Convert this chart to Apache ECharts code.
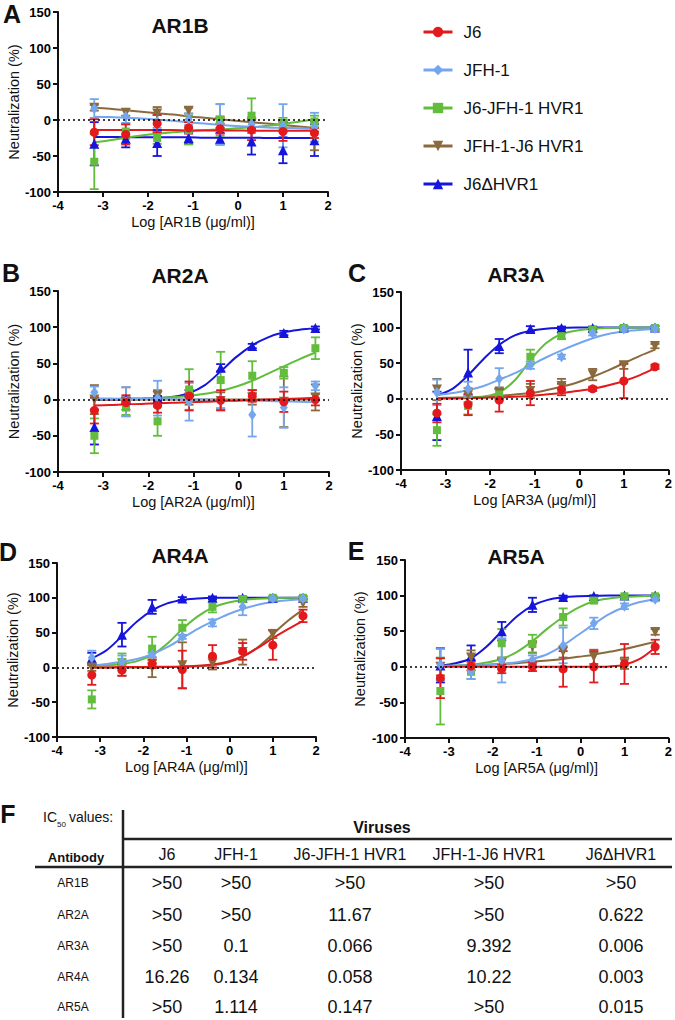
<!DOCTYPE html>
<html><head><meta charset="utf-8">
<script src="https://cdn.jsdelivr.net/npm/echarts@6/dist/echarts.min.js"></script>
<style>html,body{margin:0;padding:0;background:#fff}#c{width:675px;height:1020px}</style>
</head><body><div id="c"></div>
<script>
// ---------- data ----------
const doseLog = [-3.194, -2.495, -1.796, -1.097, -0.398, 0.301, 1.0, 1.699];
const curveLog = [-3.194, -2.845, -2.495, -2.146, -1.796, -1.447, -1.097, -0.748, -0.398, -0.049, 0.301, 0.651, 1.0, 1.35, 1.699];
const viruses = ['J6', 'JFH-1', 'J6-JFH-1 HVR1', 'JFH-1-J6 HVR1', 'J6ΔHVR1'];
const antibodies = ['AR1B', 'AR2A', 'AR3A', 'AR4A', 'AR5A'];
const panelLetters = ['A', 'B', 'C', 'D', 'E'];

// rows: J6, JFH-1, J6-JFH-1 HVR1, JFH-1-J6 HVR1, J6ΔHVR1
const ar1bMean = [
  [-17, -20, -5, -11, -12, -14, -16, -18],
  [16, 5, -2, 1, -6, -6, -8, -10],
  [-58, -16, -25, -14, 0, 6, -5, -2],
  [17, 10, 9, 13, -3, -5, -8, -22],
  [-33, -26, -32, -25, -26, -30, -42, -28]];
const ar1bErr = [
  [18, 14, 12, 8, 7, 14, 13, 7],
  [13, 9, 9, 8, 28, 10, 30, 20],
  [38, 10, 8, 20, 22, 24, 8, 8],
  [4, 4, 9, 4, 8, 8, 8, 20],
  [30, 12, 18, 8, 8, 18, 18, 22]];
const ar1bFit = [
  [-14, -14, -14, -14, -14, -14, -14.5, -14.5, -14.5, -14.5, -15, -15, -15, -15, -15],
  [4.5, 4, 3, 2, 0.5, -1, -3, -5, -7, -8.5, -9.5, -10.5, -11, -11.5, -12],
  [-31, -28, -24.5, -21.5, -19, -17, -15.5, -14, -13, -11.5, -10, -8, -5.5, -2.5, 1],
  [17, 15.5, 13.5, 11.5, 9.5, 7.5, 5, 3, 1, -1, -3, -5, -7, -9, -11],
  [-23.5, -23.5, -24, -24, -24, -24, -24, -24.5, -24.5, -24.5, -24.5, -25, -25, -25, -25]];

const ar2aMean = [
  [-15, -4, -8, 5, -1, 5, -3, 0],
  [10, -3, 2, -3, 0, -21, -11, 19],
  [-50, -11, -30, 14, 27, 33, 37, 71],
  [0, -3, 5, 3, -2, 3, -3, 3],
  [-38, 0, 2, 10, 44, 74, 92, 99]];
const ar2aErr = [
  [18, 10, 10, 20, 14, 8, 14, 8],
  [8, 20, 24, 26, 12, 30, 28, 6],
  [24, 10, 20, 28, 39, 20, 8, 15],
  [20, 20, 8, 10, 12, 10, 35, 18],
  [24, 3, 3, 3, 5, 3, 3, 2]];
const ar2aFit = [
  [-8, -7.5, -6.5, -6, -5, -4.5, -3.5, -3, -2, -1.5, -0.5, 0, 1, 1.5, 2.5],
  [1.5, 1.5, 1, 1, 0.5, 0.5, 0, 0, -0.5, -1, -1.5, -2, -2.5, -3, -3.5],
  [1, 1, 1.5, 2, 2.5, 3.5, 5, 8, 12, 18, 26, 36, 46, 56, 65],
  [0, 0, 0, 0, 0, 0, 0, 0, 0, 0, 0, 0, 0, 0, 0],
  [0, 0, 0.5, 1, 2, 4, 9, 20, 39, 59, 75, 86, 93, 96.5, 98.5]];

const ar3aMean = [
  [-20, -8, -2, 8, 13, 14, 25, 45],
  [9, 14, 28, 47, 59, 92, 98, 99],
  [-44, -10, 6, 59, 88, 97, 99.5, 99.5],
  [13, 5, 8, 11, 18, 34, 47, 74],
  [-24, 37, 74, 98, 99.5, 99.5, 100, 100]];
const ar3aErr = [
  [13, 15, 16, 17, 8, 3, 24, 3],
  [18, 10, 15, 5, 3, 3, 3, 3],
  [22, 12, 8, 10, 4, 3, 2, 3],
  [15, 10, 8, 10, 10, 8, 5, 3],
  [34, 32, 10, 4, 2, 2, 2, 2]];
const ar3aFit = [
  [0.5, 0.7, 1, 1.5, 2, 3, 4, 6, 8, 11, 14, 19, 25, 33, 43],
  [5, 8, 12, 18, 27, 36, 47, 58, 68, 77, 85, 91, 94.5, 96.5, 98],
  [0, 0.5, 1, 3, 9, 26, 54, 78, 91, 96, 98.5, 99.5, 100, 100, 100],
  [1, 1.5, 2, 3, 4, 6, 8, 12, 17, 23, 31, 40, 50, 60, 69],
  [5, 14, 33, 56, 76, 89, 95.5, 98.5, 99.5, 100, 100, 100, 100, 100, 100]];

const ar4aMean = [
  [-11, -4, 5, -3, 16, 23, 32, 74],
  [14, 8, 18, 44, 64, 87, 99, 99],
  [-46, 8, 27, 57, 87, 98, 100, 100],
  [0, 0, 0, 3, 6, 22, 48, 92],
  [13, 47, 87, 99, 100, 100, 100, 100]];
const ar4aErr = [
  [14, 8, 6, 27, 16, 12, 21, 9],
  [10, 9, 3, 3, 5, 12, 2, 2],
  [13, 12, 17, 11, 8, 3, 2, 2],
  [5, 12, 14, 33, 9, 18, 6, 5],
  [8, 17, 10, 2, 2, 2, 2, 2]];
const ar4aFit = [
  [0, 0, 0.5, 0.5, 1, 1, 1.5, 2.5, 4, 8, 16, 28, 42, 55, 67],
  [3, 5, 8, 12, 19, 29, 42, 55, 66, 76, 84, 90, 94, 96.5, 98],
  [2, 3, 5, 9, 18, 34, 55, 73, 86, 93, 97, 98.5, 99.5, 100, 100],
  [0, 0, 0, 0, 0, 0.5, 1, 1.5, 3, 7, 15, 29, 48, 67, 83],
  [13, 25, 45, 66, 82, 92, 97, 99, 100, 100, 100, 100, 100, 100, 100]];

const ar5aMean = [
  [-16, 1, -3, 0, -3, 0, 4, 28],
  [3, -7, 9, 10, 30, 61, 85, 95],
  [-34, -7, 33, 32, 70, 93, 99, 99],
  [0, 13, 5, 28, 21, 14, 5, 49],
  [2, 15, 50, 87, 98, 99.5, 100, 100]];
const ar5aErr = [
  [28, 6, 6, 6, 25, 22, 28, 10],
  [22, 10, 31, 6, 25, 8, 4, 3],
  [47, 10, 20, 13, 12, 3, 2, 2],
  [12, 10, 8, 8, 8, 10, 8, 4],
  [24, 15, 13, 10, 2, 1, 1, 1]];
const ar5aFit = [
  [0, 0, 0, 0, 0, 0, 0, 0, 0, 0, 0, 0.5, 3, 11, 27],
  [1, 1.5, 2, 2.5, 4, 6.5, 11, 18, 30, 45, 60, 74, 84, 91, 95],
  [1, 1.5, 3, 6, 11, 21, 36, 54, 70, 83, 92, 96, 98, 99, 100],
  [1, 1.5, 2, 3, 4, 5, 7, 9, 11, 14, 17, 21, 25, 30, 35],
  [2, 5, 12, 28, 50, 71, 86, 94, 97.5, 99, 99.5, 100, 100, 100, 100]];

// IC50 table (µg/ml), one array per virus column, rows follow antibodies
const ic50J6 = ['>50', '>50', '>50', '16.26', '>50'];
const ic50JFH1 = ['>50', '>50', '0.1', '0.134', '1.114'];
const ic50J6JFH1 = ['>50', '11.67', '0.066', '0.058', '0.147'];
const ic50JFH1J6 = ['>50', '>50', '9.392', '10.22', '>50'];
const ic50J6dHVR1 = ['>50', '0.622', '0.006', '0.003', '0.015'];

// ---------- build ----------
const FONT = '"Liberation Sans", Arial, Helvetica, sans-serif';
const colors = ['#e3191c', '#74a6ee', '#62bd3c', '#8a6a3c', '#1515dd'];
const symbols = ['circle', 'diamond', 'rect', 'triangle', 'triangle'];
const symRot = [0, 0, 0, 180, 0];
const symSize = [9, [8, 11], 8, 10, 10];
const means = [ar1bMean, ar2aMean, ar3aMean, ar4aMean, ar5aMean];
const errs = [ar1bErr, ar2aErr, ar3aErr, ar4aErr, ar5aErr];
const fits = [ar1bFit, ar2aFit, ar3aFit, ar4aFit, ar5aFit];
const ic50Cols = [ic50J6, ic50JFH1, ic50J6JFH1, ic50JFH1J6, ic50J6dHVR1];

const grids = [
  {left: 58, top: 12, width: 270, height: 180},
  {left: 58, top: 291, width: 271, height: 181},
  {left: 401, top: 292, width: 268, height: 178},
  {left: 57, top: 563, width: 259, height: 174},
  {left: 405, top: 560, width: 265, height: 178}];
const yNameGap = [34, 34, 31, 35, 38];

const xAxes = antibodies.map((ab, p) => ({
  gridIndex: p, type: 'value', min: -4, max: 2, interval: 1,
  axisLine: {show: true, onZero: false, lineStyle: {color: '#111', width: 2}},
  axisTick: {show: true, length: 5, lineStyle: {color: '#111', width: 2}},
  axisLabel: {color: '#000', fontWeight: 'bold', fontSize: 13, margin: 7, fontFamily: FONT},
  splitLine: {show: false},
  name: 'Log [' + ab + ' (μg/ml)]', nameLocation: 'middle', nameGap: 22,
  nameTextStyle: {color: '#111', fontSize: 14.5, fontFamily: FONT}
}));
const yAxes = antibodies.map((ab, p) => ({
  gridIndex: p, type: 'value', min: -100, max: 150, interval: 50,
  axisLine: {show: true, onZero: false, lineStyle: {color: '#111', width: 2}},
  axisTick: {show: true, length: 5, lineStyle: {color: '#111', width: 2}},
  axisLabel: {color: '#000', fontWeight: 'bold', fontSize: 13, margin: 7, fontFamily: FONT},
  splitLine: {show: false},
  name: 'Neutralization (%)', nameLocation: 'middle', nameGap: yNameGap[p],
  nameTextStyle: {color: '#111', fontSize: 14.5, fontFamily: FONT}
}));

const series = [];
const drawOrder = [4, 3, 2, 1, 0];
for (let p = 0; p < 5; p++) {
  // fitted curves
  drawOrder.forEach((v, k) => {
    const s = {
      type: 'line', name: viruses[v], xAxisIndex: p, yAxisIndex: p, z: 2, silent: true,
      data: curveLog.map((x, i) => [x, fits[p][v][i]]),
      smooth: 0.35, showSymbol: false,
      symbol: symbols[v], symbolRotate: symRot[v],
      lineStyle: {color: colors[v], width: 2}, itemStyle: {color: colors[v]}
    };
    if (k === 0) {
      s.markLine = {silent: true, symbol: ['none', 'none'], label: {show: false},
        lineStyle: {type: [2, 3], color: '#000', width: 1.5}, data: [{yAxis: 0}]};
    }
    series.push(s);
  });
  // error bars
  drawOrder.forEach(v => {
    series.push({
      type: 'custom', name: viruses[v], xAxisIndex: p, yAxisIndex: p, z: 3, silent: true,
      data: doseLog.map((x, i) => [x, means[p][v][i], errs[p][v][i]]),
      encode: {x: 0, y: 1},
      renderItem: (params, api) => {
        const x = api.value(0), y = api.value(1), e = api.value(2);
        const t = api.coord([x, y + e]), b = api.coord([x, y - e]);
        const w = 4.5, st = {stroke: colors[v], lineWidth: 1.8};
        return {type: 'group', children: [
          {type: 'line', shape: {x1: t[0], y1: t[1], x2: b[0], y2: b[1]}, style: st},
          {type: 'line', shape: {x1: t[0] - w, y1: t[1], x2: t[0] + w, y2: t[1]}, style: st},
          {type: 'line', shape: {x1: b[0] - w, y1: b[1], x2: b[0] + w, y2: b[1]}, style: st}]};
      }
    });
  });
  // points
  drawOrder.forEach(v => {
    series.push({
      type: 'scatter', name: viruses[v], xAxisIndex: p, yAxisIndex: p, z: 4, silent: true,
      data: doseLog.map((x, i) => [x, means[p][v][i]]),
      symbol: symbols[v], symbolRotate: symRot[v], symbolSize: symSize[v],
      itemStyle: {color: colors[v], opacity: 1}
    });
  });
}

// graphic texts: panel letters, titles, table
const letterPos = [[12, 14], [11, 273], [357, 273], [8, 552], [356, 551]];
const titlePos = [[180, 25], [180, 275], [516, 274], [180, 555], [516, 556]];
const g = [];
const txt = (text, x, y, font, align) => ({
  type: 'text', silent: true,
  style: {text: text, x: x, y: y, font: font, fill: '#111', textAlign: align || 'center', textVerticalAlign: 'middle'}
});
panelLetters.forEach((L, i) => g.push(txt(L, letterPos[i][0], letterPos[i][1], 'bold 25px ' + FONT)));
antibodies.forEach((ab, i) => g.push(txt(ab, titlePos[i][0], titlePos[i][1], 'bold 21px ' + FONT)));

// table F
g.push(txt('F', 8, 814, 'bold 25px ' + FONT));
g.push(txt('IC', 43, 817, '14px ' + FONT, 'left'));
g.push(txt('50', 57, 824, '8px ' + FONT, 'left'));
g.push(txt(' values:', 65, 817, '14px ' + FONT, 'left'));
g.push(txt('Viruses', 382, 827, 'bold 16px ' + FONT));
g.push(txt('Antibody', 76, 857, 'bold 13px ' + FONT));
const colX = [167, 236, 350, 489, 621];
const rowY = [883, 915, 946, 977, 1007];
viruses.forEach((v, i) => g.push(txt(v, colX[i], 854, '16px ' + FONT)));
antibodies.forEach((ab, j) => {
  g.push(txt(ab, 73, rowY[j], '12px ' + FONT));
  ic50Cols.forEach((col, i) => g.push(txt(col[j], colX[i], rowY[j], '18px ' + FONT)));
});
const ln = (x1, y1, x2, y2) => ({type: 'line', silent: true, shape: {x1, y1, x2, y2}, style: {stroke: '#222', lineWidth: 2.5}});
g.push(ln(123, 810, 123, 1018));
g.push(ln(123, 839, 672, 839));
g.push(ln(35, 867, 672, 867));

const chart = echarts.init(document.getElementById('c'), null, {renderer: 'svg'});
chart.setOption({
  animation: false,
  backgroundColor: '#fff',
  textStyle: {fontFamily: FONT},
  grid: grids,
  xAxis: xAxes,
  yAxis: yAxes,
  legend: {
    data: viruses, orient: 'vertical', left: 422, top: 23.5, padding: 0,
    itemWidth: 29, itemHeight: 13, itemGap: 21, selectedMode: false,
    lineStyle: {width: 3},
    textStyle: {fontSize: 17, color: '#111', fontFamily: FONT, lineHeight: 13, padding: [0, 0, 0, 6]}
  },
  series: series,
  graphic: {elements: g}
});
</script></body></html>
